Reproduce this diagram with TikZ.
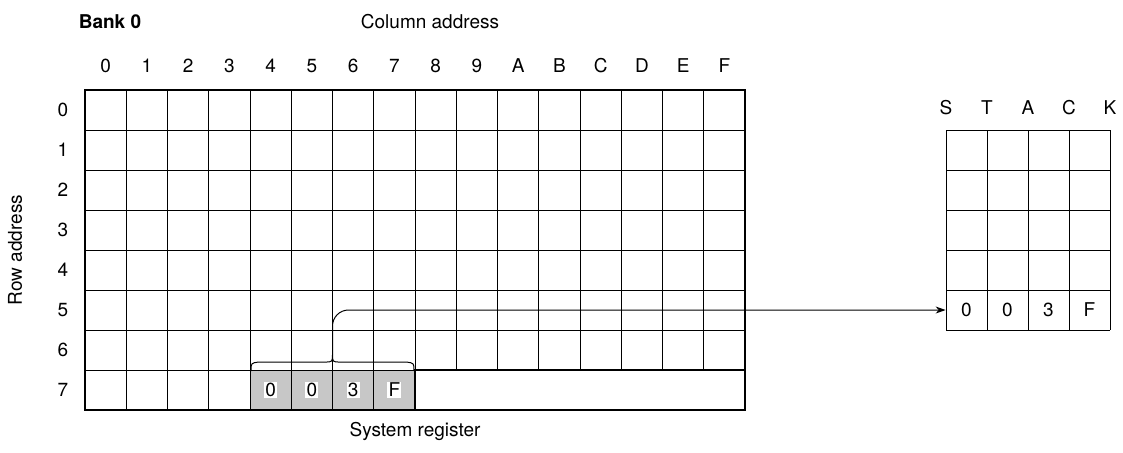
\documentclass[tikz,border=0pt]{standalone}
\usepackage{fontspec}
\setmainfont{TeX Gyre Heros}
\usetikzlibrary{arrows.meta}

\tikzset{
  thinline/.style={line width=0.5pt},
  thickline/.style={line width=1.4pt},
  lbl/.style={font=\fontsize{9.5}{11}\selectfont, inner sep=1pt},
  val/.style={lbl, fill=white, inner sep=0.6pt},
  cell/.style={lbl, minimum width=20.5pt, minimum height=20pt, inner sep=0pt},
}

\begin{document}
\begin{tikzpicture}[x=0.5pt,y=-0.5pt]
    \useasboundingbox (0,0) rectangle (1123,452);

    % Titles
    \node[lbl, font=\fontsize{9.5}{11}\selectfont\bfseries] (bank) at (110,22) {Bank 0};
    \node[lbl] (coladdr) at (430,22) {Column address};
    \node[lbl, rotate=90] (rowaddr) at (15,250) {Row address};
    \node[lbl] (sysreg) at (415,431) {System register};

    % Column and row numbers
    \foreach \c [count=\i from 0] in {0,1,2,3,4,5,6,7,8,9,A,B,C,D,E,F}
        \node[lbl] (col\i) at (85+41.25*\i+20.6,66) {\c};
    \foreach \r in {0,...,7}
        \node[lbl] (row\r) at (63,110+40*\r) {\r};

    % System register cells (shaded)
    \fill[black!22] (250,370) rectangle (415,410);

    % Memory grid
    \foreach \r in {1,...,7}
        \draw[thinline] (85,90+40*\r) -- (745,90+40*\r);
    \foreach \i in {1,...,15}
        \draw[thinline] (85+41.25*\i,90) -- (85+41.25*\i,370);
    \foreach \i in {1,...,7}
        \draw[thinline] (85+41.25*\i,370) -- (85+41.25*\i,410);
    \draw[thickline] (85,90) rectangle (745,410);
    \draw[thickline] (745,370) -- (415,370) -- (415,410);

    % Register values
    \foreach \v [count=\i from 4] in {0,0,3,F}
        \node[val] (reg\i) at (85+41.25*\i+20.6,390) {\v};

    % Brace over the register
    \draw[thinline] (251,371) .. controls (251,363) .. (259,362) -- (325,362)
        .. controls (332.5,362) .. (332.5,354) .. controls (332.5,362) .. (340,362)
        -- (406,362) .. controls (414,363) .. (414,371);
    \coordinate (tip) at (332.5,354);

    % Stack
    \foreach \l [count=\i from 0] in {S,T,A,C,K}
        \node[lbl] (stk\l) at (946+41*\i,108) {\l};
    \foreach \r in {0,...,5}
        \draw[thinline] (946,130+40*\r) -- (1110,130+40*\r);
    \foreach \i in {0,...,4}
        \draw[thinline] (946+41*\i,130) -- (946+41*\i,330);
    \foreach \v [count=\i from 0] in {0,0,3,F}
        \node[cell] (top\i) at (946+41*\i+20.5,310) {\v};

    % Push to stack
    \draw[thinline, rounded corners=8, -{Stealth[length=5pt,width=3.5pt]}]
        (tip) |- (top0.west);
\end{tikzpicture}
\end{document}
